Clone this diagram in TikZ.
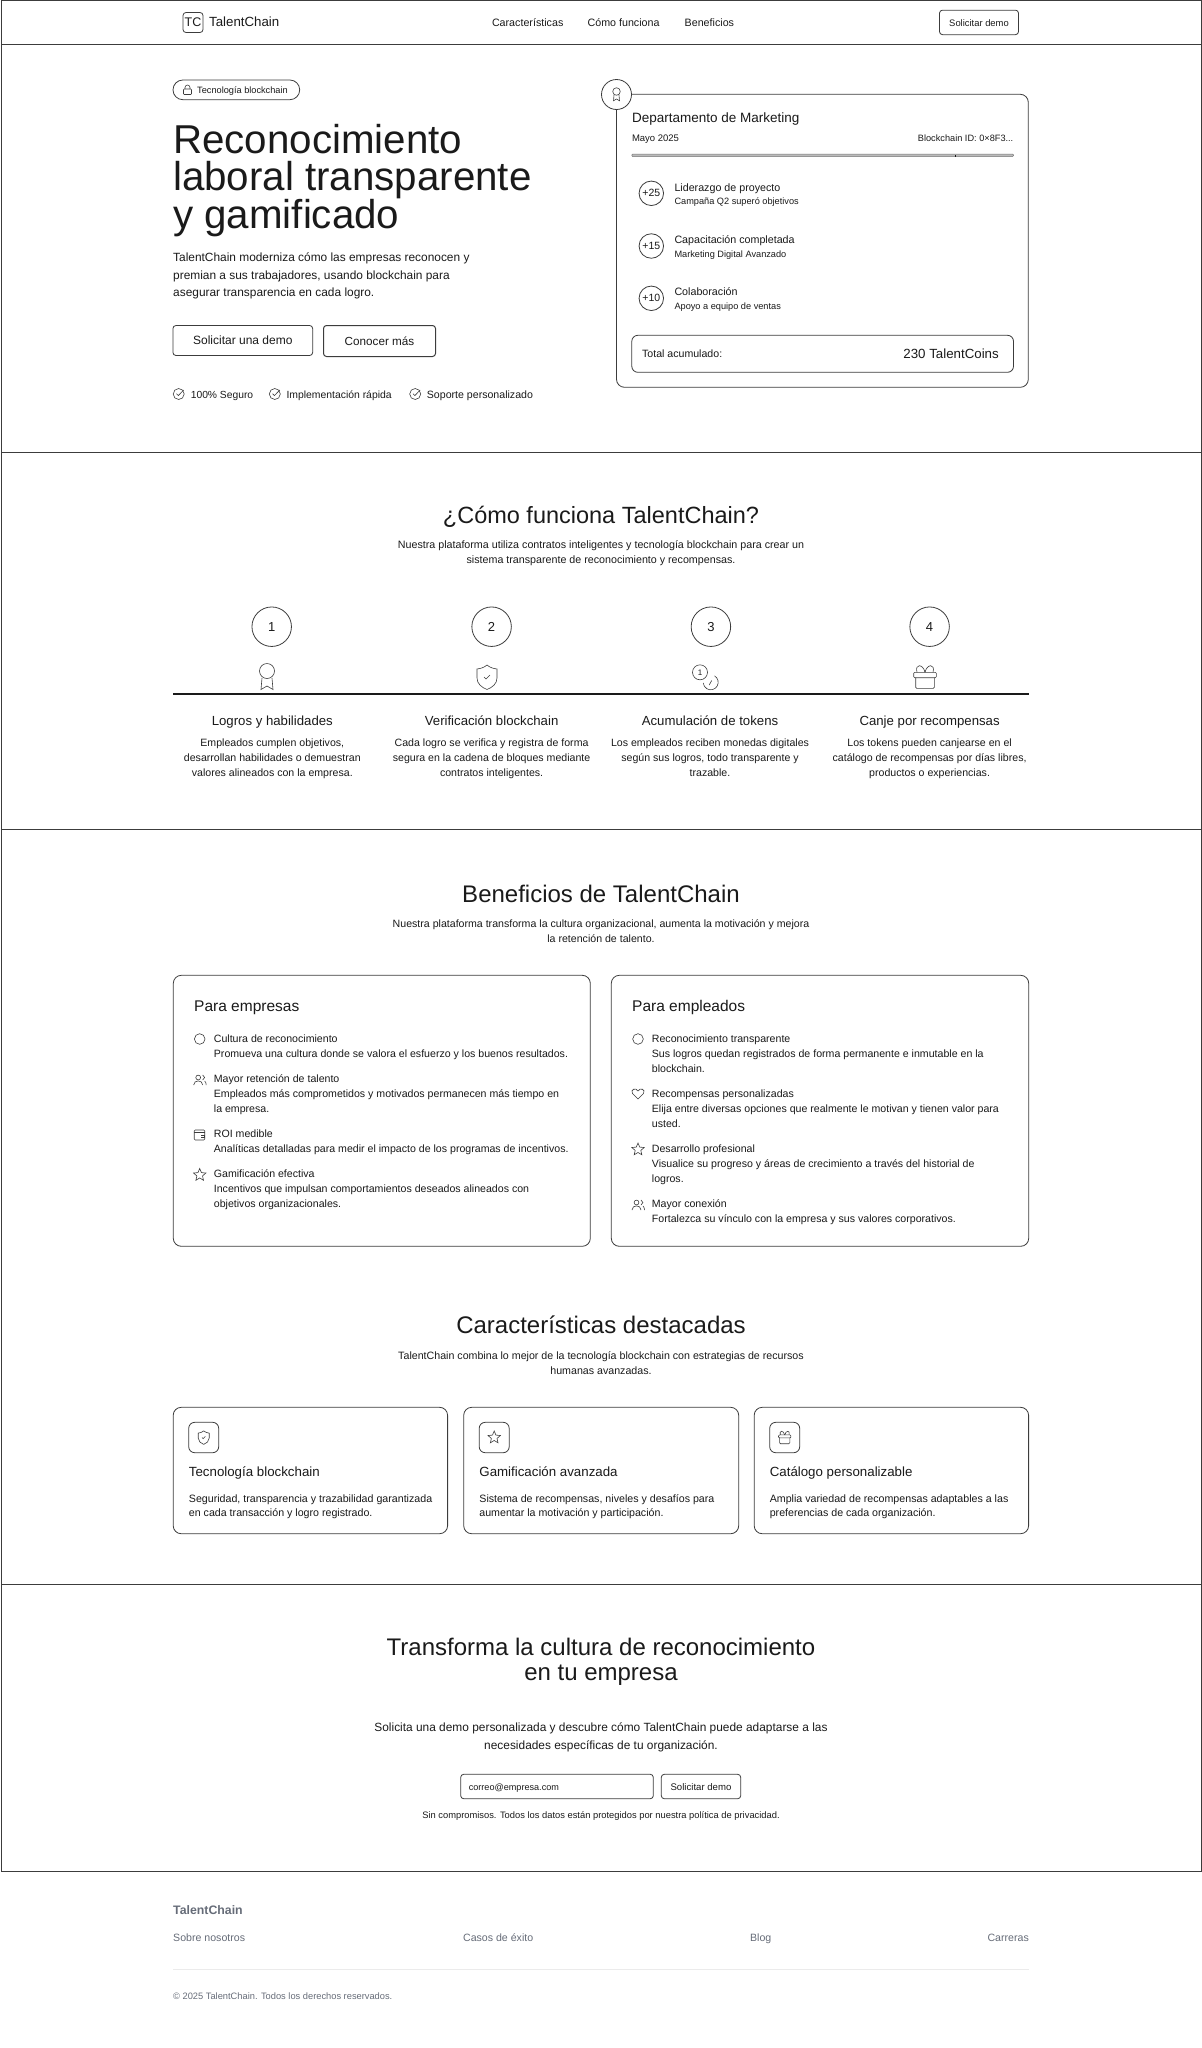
\documentclass[tikz,border=0pt]{standalone}
\usepackage{fontspec}
\setmainfont{Liberation Sans}
\usetikzlibrary{positioning,shapes.geometric}
\definecolor{MyInk}{HTML}{1A1A1A}
\definecolor{MyLine}{HTML}{3C3C3C}
\definecolor{MyFoot}{HTML}{666C78}
\newcommand{\fsize}[1]{\fontsize{#1}{#1}\selectfont}
\tikzset{%
  txt/.style={inner sep=0pt, anchor=west, text=MyInk, text height=.82em, text depth=.1em, font=\fsize{#1}},
  txt/.default=11,
  ctr/.style={txt=#1, anchor=center},
  rgt/.style={txt=#1, anchor=east},
  para/.style={inner sep=0pt, anchor=north, text=MyInk, align=center, font=\fsize{#1}},
  frame/.style={draw=MyLine, line width=.8pt},
  card/.style={draw=MyLine, line width=.8pt, rounded corners=8pt, fill=white},
  btn/.style={draw=MyLine, line width=.8pt, rounded corners=3pt, inner sep=0pt, text=MyInk, text height=.85em, text depth=0pt, font=\fsize{#1}},
  token/.style={draw=MyLine, line width=.8pt, circle, minimum size=#1, inner sep=0pt, text=MyInk},
  icon/.style={draw=MyLine, line width=.6pt},
  medal/.pic={code={
    \draw[icon] (0,-6) circle (7.5pt);
    \draw[icon] (-5,1) -- (-6,12.5) -- (0,9) -- (6,12.5) -- (5,1);
  }},
  shieldmark/.pic={code={
    \draw[icon] (0,-12) .. controls (-3,-9.5) and (-6,-8.5) .. (-10,-8) -- (-10,1)
      .. controls (-10,7) and (-5,10.5) .. (0,12.5) .. controls (5,10.5) and (10,7) .. (10,1)
      -- (10,-8) .. controls (6,-8.5) and (3,-9.5) .. (0,-12) -- cycle;
    \draw[icon] (-3,0) -- (-1,2) -- (3,-2);
  }},
  coins/.pic={code={
    \draw[icon] (-5.7,-4.7) circle (7.5pt);
    \node[ctr=8] (one) at (-5.7,-4.7) {1};
    \draw[icon] (8.75,-1.2) arc (60:-175:7.5pt);
    \draw[icon] (3.5,8) -- (6,3.5);
  }},
  gift/.pic={code={
    \draw[icon, rounded corners=1pt] (-11.3,-4.7) rectangle (11.3,.7);
    \draw[icon, rounded corners=1pt] (-9.3,.7) -- (-9.3,11.3) -- (9.3,11.3) -- (9.3,.7);
    \draw[icon] (0,-4.7) .. controls (-2,-13.5) and (-10.5,-13.5) .. (-8,-4.7);
    \draw[icon] (0,-4.7) .. controls (2,-13.5) and (10.5,-13.5) .. (8,-4.7);
  }},
  lockmark/.pic={code={
    \draw[icon, rounded corners=.8pt] (-4,-1) rectangle (4,4.5);
    \draw[icon] (-2.5,-1) -- (-2.5,-2.5) arc (180:0:2.5pt) -- (2.5,-1);
  }},
  checkmark/.pic={code={
    \draw[icon] (0,0) circle (5.5pt);
    \draw[icon] (-2.2,-.3) -- (-.4,1.6) -- (5,-4);
  }},
  ringmark/.pic={code={
    \draw[icon] (0,0) circle (5.3pt);
  }},
  people/.pic={code={
    \draw[icon] (-1.5,-2.5) circle (2.4pt);
    \draw[icon] (-6,5) .. controls (-6,-.5) and (3,-.5) .. (3,5);
    \draw[icon] (3,-5) .. controls (5.5,-4) and (5.5,-1) .. (3,0);
    \draw[icon] (5,1) .. controls (6,2) and (6.5,3) .. (6.5,5);
  }},
  wallet/.pic={code={
    \draw[icon, rounded corners=1pt] (-5.5,-5) rectangle (5,5);
    \draw[icon] (-5.5,-2.5) -- (5,-2.5);
    \draw[icon] (1.5,0) -- (5,0) -- (5,2.5) -- (1.5,2.5);
  }},
  starmark/.pic={code={
    \node[icon, star, star points=5, star point ratio=2.2, minimum size=13pt, inner sep=0pt] (pt) at (0,0) {};
  }},
  heartmark/.pic={code={
    \draw[icon] (0,5) -- (-5.5,-.5) .. controls (-8,-4.5) and (-2,-7) .. (0,-3)
      .. controls (2,-7) and (8,-4.5) .. (5.5,-.5) -- cycle;
  }}
}
\begin{document}
\begin{tikzpicture}[x=1pt, y=-1pt]
 \useasboundingbox (0,0) rectangle (1202,2048);

 % section frames
 \draw[frame] (1,.5) rectangle (1201,44);
 \draw[frame] (1,44) rectangle (1201,452);
 \draw[frame] (1,452) rectangle (1201,829.5);
 \draw[frame] (1,829.5) rectangle (1201,1584);
 \draw[frame] (1,1584) rectangle (1201,1871);

 % nav
 \node[btn=12.5, minimum width=20pt, minimum height=20pt] (logo) at (193,22.5) {TC};
 \node[txt=13.3, right=5.5pt of logo] (brand) {TalentChain};
 \node[txt=10.7] (nava) at (491.8,22.7) {Características};
 \node[txt=10.7] (navb) at (587.4,22.7) {Cómo funciona};
 \node[txt=10.7] (navc) at (684.5,22.7) {Beneficios};
 \node[btn=9.4, minimum width=79pt, minimum height=24.5pt] (navdemo) at (979,22.4) {Solicitar demo};

 % hero
 \draw[frame, rounded corners=9.8pt] (173,80) rectangle (299.7,99.7);
 \pic at (187.5,90) {lockmark};
 \node[txt=9.2] (tag) at (197,90) {Tecnología blockchain};
 \node[txt=40.3] (heada) at (173,149.4) {Reconocimiento};
 \node[txt=40.3] (headb) at (173,187.3) {laboral transparente};
 \node[txt=40.3] (headc) at (173,225.2) {y gamificado};
 \node[txt=11.9] (leada) at (173,258) {TalentChain moderniza cómo las empresas reconocen y};
 \node[txt=11.9] (leadb) at (173,275.5) {premian a sus trabajadores, usando blockchain para};
 \node[txt=11.9] (leadc) at (173,293.1) {asegurar transparencia en cada logro.};
 \node[btn=12, minimum width=139.7pt, minimum height=30pt] (demo) at (242.8,340.5) {Solicitar una demo};
 \node[btn=11.7, minimum width=112pt, minimum height=31pt, line width=1pt] (more) at (379.5,341) {Conocer más};
 \pic at (178.7,394) {checkmark};
 \node[txt=10.3] (chka) at (190.6,394.7) {100\% Seguro};
 \pic at (274.8,394) {checkmark};
 \node[txt=10.4] (chkb) at (286.3,394.7) {Implementación rápida};
 \pic at (415.2,394) {checkmark};
 \node[txt=10.6] (chkc) at (426.7,394.7) {Soporte personalizado};

 % hero card
 \draw[card] (616.5,94.3) rectangle (1028.3,387.3);
 \node[token=30pt, fill=white] (seal) at (616.5,94.5) {};
 \pic[scale=.5] at (616.5,94.5) {medal};
 \node[txt=13.5] (dept) at (631.8,119.2) {Departamento de Marketing};
 \node[txt=9.5] (month) at (631.8,138.3) {Mayo 2025};
 \node[rgt=9.2] (chain) at (1013.5,138.3) {Blockchain ID: 0×8F3...};
 \draw[draw=MyLine!70, fill=MyLine!35, line width=.5pt, rounded corners=1pt] (631.8,154) rectangle (1013.5,156.6);
 \draw[MyInk, line width=.7pt] (955.7,155) -- (955.7,157);

 \node[token=24.5pt, font=\fsize{10.5}] (pa) at (651.3,193.3) {+25};
 \node[txt=10.7] (pat) at (674.3,187.7) {Liderazgo de proyecto};
 \node[txt=9.2] (pas) at (674.3,201) {Campaña Q2 superó objetivos};
 \node[token=24.5pt, font=\fsize{10.5}] (pb) at (651.3,246) {+15};
 \node[txt=10.7] (pbt) at (674.3,240) {Capacitación completada};
 \node[txt=9.2] (pbs) at (674.3,253.7) {Marketing Digital Avanzado};
 \node[token=24.5pt, font=\fsize{10.5}] (pc) at (651.3,298.3) {+10};
 \node[txt=10.7] (pct) at (674.3,292.3) {Colaboración};
 \node[txt=9.2] (pcs) at (674.3,306) {Apoyo a equipo de ventas};

 \draw[frame, rounded corners=6pt] (631.8,335.3) rectangle (1013.5,372.3);
 \node[txt=10.6] (total) at (641.9,354) {Total acumulado:};
 \node[rgt=13.3] (coins) at (999,354.7) {230 TalentCoins};

 % how it works
 \node[ctr=23.5] (howh) at (601,519.7) {¿Cómo funciona TalentChain?};
 \node[para=10.7] (howp) at (601,540.6) {Nuestra plataforma utiliza contratos inteligentes y tecnología blockchain para crear un\\[4.4pt]sistema transparente de reconocimiento y recompensas.};

 \node[token=39.5pt, font=\fsize{13}] (sa) at (271.7,626.7) {1};
 \node[token=39.5pt, font=\fsize{13}] (sb) at (491.6,626.7) {2};
 \node[token=39.5pt, font=\fsize{13}] (sc) at (710.9,626.7) {3};
 \node[token=39.5pt, font=\fsize{13}] (sd) at (929.6,626.7) {4};
 \pic at (267,677) {medal};
 \pic at (487,677) {shieldmark};
 \pic at (705.7,677) {coins};
 \pic at (925,677) {gift};
 \draw[MyInk, line width=1.3pt] (173,694) -- (1029,694);

 \node[ctr=13.2] (sat) at (272.3,721.7) {Logros y habilidades};
 \node[para=10.6] (sap) at (272.3,738.3) {Empleados cumplen objetivos,\\[4.6pt]desarrollan habilidades o demuestran\\[4.6pt]valores alineados con la empresa.};
 \node[ctr=13.2] (sbt) at (491.6,721.7) {Verificación blockchain};
 \node[para=10.6] (sbp) at (491.6,738.3) {Cada logro se verifica y registra de forma\\[4.6pt]segura en la cadena de bloques mediante\\[4.6pt]contratos inteligentes.};
 \node[ctr=13.2] (sct) at (710,721.7) {Acumulación de tokens};
 \node[para=10.6] (scp) at (710,738.3) {Los empleados reciben monedas digitales\\[4.6pt]según sus logros, todo transparente y\\[4.6pt]trazable.};
 \node[ctr=13.2] (sdt) at (929.6,721.7) {Canje por recompensas};
 \node[para=10.6] (sdp) at (929.6,738.3) {Los tokens pueden canjearse en el\\[4.6pt]catálogo de recompensas por días libres,\\[4.6pt]productos o experiencias.};

 % benefits
 \node[ctr=24] (benh) at (601,898.7) {Beneficios de TalentChain};
 \node[para=10.6] (benp) at (601,919.6) {Nuestra plataforma transforma la cultura organizacional, aumenta la motivación y mejora\\[4.4pt]la retención de talento.};

 \draw[card] (173.3,975.3) rectangle (590.3,1246.3);
 \node[txt=15.5] (forco) at (194,1008) {Para empresas};
 \pic at (199.7,1039) {ringmark};
 \node[txt=10.6] (coa) at (213.7,1038.7) {Cultura de reconocimiento};
 \node[txt=10.6] (cob) at (213.7,1053.7) {Promueva una cultura donde se valora el esfuerzo y los buenos resultados.};
 \pic at (199.7,1080) {people};
 \node[txt=10.6] (coc) at (213.7,1078.7) {Mayor retención de talento};
 \node[txt=10.6] (cod) at (213.7,1093.7) {Empleados más comprometidos y motivados permanecen más tiempo en};
 \node[txt=10.6] (coe) at (213.7,1108.7) {la empresa.};
 \pic at (199.7,1135) {wallet};
 \node[txt=10.6] (cof) at (213.7,1133.7) {ROI medible};
 \node[txt=10.6] (cog) at (213.7,1148.7) {Analíticas detalladas para medir el impacto de los programas de incentivos.};
 \pic at (199.7,1175) {starmark};
 \node[txt=10.6] (coh) at (213.7,1173.7) {Gamificación efectiva};
 \node[txt=10.6] (coi) at (213.7,1188.7) {Incentivos que impulsan comportamientos deseados alineados con};
 \node[txt=10.6] (coj) at (213.7,1204) {objetivos organizacionales.};

 \draw[card] (611.3,975.3) rectangle (1028.7,1246.3);
 \node[txt=15.5] (forem) at (632,1008) {Para empleados};
 \pic at (638,1039) {ringmark};
 \node[txt=10.6] (ema) at (651.7,1038.7) {Reconocimiento transparente};
 \node[txt=10.6] (emb) at (651.7,1053.7) {Sus logros quedan registrados de forma permanente e inmutable en la};
 \node[txt=10.6] (emc) at (651.7,1068.7) {blockchain.};
 \pic at (638,1094) {heartmark};
 \node[txt=10.6] (emd) at (651.7,1093.7) {Recompensas personalizadas};
 \node[txt=10.6] (eme) at (651.7,1108.7) {Elija entre diversas opciones que realmente le motivan y tienen valor para};
 \node[txt=10.6] (emf) at (651.7,1123.7) {usted.};
 \pic at (638,1149.5) {starmark};
 \node[txt=10.6] (emg) at (651.7,1148.7) {Desarrollo profesional};
 \node[txt=10.6] (emh) at (651.7,1163.7) {Visualice su progreso y áreas de crecimiento a través del historial de};
 \node[txt=10.6] (emi) at (651.7,1178.7) {logros.};
 \pic at (638,1205) {people};
 \node[txt=10.6] (emj) at (651.7,1204) {Mayor conexión};
 \node[txt=10.6] (emk) at (651.7,1219) {Fortalezca su vínculo con la empresa y sus valores corporativos.};

 % features
 \node[ctr=24] (feah) at (601,1329.4) {Características destacadas};
 \node[para=10.65] (feap) at (601,1351.1) {TalentChain combina lo mejor de la tecnología blockchain con estrategias de recursos\\[4.4pt]humanas avanzadas.};

 \draw[card] (173.2,1407.3) rectangle (447.6,1533.7);
 \node[btn=1, minimum width=30pt, minimum height=30.4pt, rounded corners=6pt] (boxa) at (203.7,1437.5) {};
 \pic[scale=.55] at (203.7,1437.5) {shieldmark};
 \node[txt=13.3] (fat) at (188.7,1473.3) {Tecnología blockchain};
 \node[txt=10.65] (fap) at (188.7,1498.7) {Seguridad, transparencia y trazabilidad garantizada};
 \node[txt=10.65] (faq) at (188.7,1513.3) {en cada transacción y logro registrado.};

 \draw[card] (463.7,1407.3) rectangle (738.7,1533.7);
 \node[btn=1, minimum width=30pt, minimum height=30.4pt, rounded corners=6pt] (boxb) at (494.2,1437.5) {};
 \pic at (494.2,1437.5) {starmark};
 \node[txt=13.3] (fbt) at (479.2,1473.3) {Gamificación avanzada};
 \node[txt=10.65] (fbp) at (479.2,1498.7) {Sistema de recompensas, niveles y desafíos para};
 \node[txt=10.65] (fbq) at (479.2,1513.3) {aumentar la motivación y participación.};

 \draw[card] (754.2,1407.3) rectangle (1028.6,1533.7);
 \node[btn=1, minimum width=30pt, minimum height=30.4pt, rounded corners=6pt] (boxc) at (784.7,1437.5) {};
 \pic[scale=.55] at (784.7,1437.5) {gift};
 \node[txt=13.3] (fct) at (769.6,1473.3) {Catálogo personalizable};
 \node[txt=10.65] (fcp) at (769.6,1498.7) {Amplia variedad de recompensas adaptables a las};
 \node[txt=10.65] (fcq) at (769.6,1513.3) {preferencias de cada organización.};

 % call to action
 \node[ctr=24] (ctaa) at (601,1651.7) {Transforma la cultura de reconocimiento};
 \node[ctr=24] (ctab) at (601,1677.2) {en tu empresa};
 \node[ctr=11.9] (ctac) at (601,1728.3) {Solicita una demo personalizada y descubre cómo TalentChain puede adaptarse a las};
 \node[ctr=11.9] (ctad) at (601,1745.6) {necesidades específicas de tu organización.};
 \node[btn=10, minimum width=192.6pt, minimum height=24.4pt] (mail) at (557,1786.5) {};
 \node[txt=9.1, right=8.3pt of mail.west] (mailt) {correo@empresa.com};
 \node[btn=9.6, minimum width=79.4pt, minimum height=24.4pt] (ctabtn) at (701,1786.5) {Solicitar demo};
 \node[ctr=9.35] (ctan) at (601,1815.3) {Sin compromisos. Todos los datos están protegidos por nuestra política de privacidad.};

 % footer
 \node[txt=12.3, text=MyFoot, font=\fsize{12.3}\bfseries] (footb) at (173,1911) {TalentChain};
 \node[txt=10.6, text=MyFoot] (foota) at (173,1938) {Sobre nosotros};
 \node[txt=10.6, text=MyFoot] (footc) at (462.9,1938) {Casos de éxito};
 \node[txt=10.6, text=MyFoot] (footd) at (749.9,1938) {Blog};
 \node[rgt=10.6, text=MyFoot] (foote) at (1029,1938) {Carreras};
 \draw[black!8, line width=.8pt] (173,1969) -- (1029,1969);
 \node[txt=9.3, text=MyFoot] (footf) at (173,1995.5) {© 2025 TalentChain. Todos los derechos reservados.};
\end{tikzpicture}
\end{document}
